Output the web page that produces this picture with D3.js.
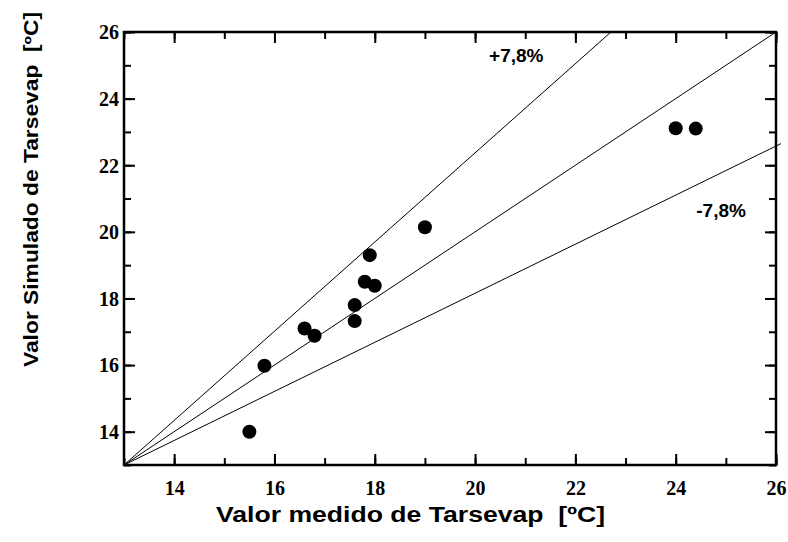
<!DOCTYPE html>
<html><head><meta charset="utf-8">
<script src="https://cdn.jsdelivr.net/npm/d3@7"></script>
<style>body{margin:0;background:#fff}svg{display:block}</style>
</head><body><svg id="c" width="788" height="542"></svg>
<script>
const measured = [15.5, 15.8, 16.6, 16.8, 17.6, 17.6, 17.8, 18.0, 17.9, 19.0, 24.0, 24.4];
const simulated = [14.0, 15.98, 17.1, 16.88, 17.8, 17.32, 18.5, 18.38, 19.3, 20.14, 23.11, 23.1];
const xTicks = [14, 16, 18, 20, 22, 24, 26];
const yTicks = [14, 16, 18, 20, 22, 24, 26];
const lineNames = ["+7,8%", "ideal", "-7,8%"];
const lineStartX = [13, 13, 13];
const lineStartY = [13, 13, 13];
const lineEndX = [22.71, 26, 26.1];
const lineEndY = [26, 26, 22.65];
const labelX = [20.28, 24.41];
const labelY = [25.1, 20.45];
const labelText = ["+7,8%", "-7,8%"];

const svg = d3.select("#c");
const L = 124, R = 776, T = 32, B = 465;
const x = d3.scaleLinear().domain([13, 26]).range([L, R]);
const y = d3.scaleLinear().domain([13, 26]).range([B, T]);

const g = svg.append("g");
lineNames.forEach((n, i) => {
  g.append("line")
    .attr("x1", x(lineStartX[i])).attr("y1", y(lineStartY[i]))
    .attr("x2", x(lineEndX[i])).attr("y2", y(lineEndY[i]))
    .attr("stroke", "#000").attr("stroke-width", 1);
});

const minor = d3.range(13, 26.01, 1);
function axis(gen, sc, tr, ticks, showLabels) {
  const a = svg.append("g").attr("transform", tr);
  a.call(gen(sc).tickValues(minor).tickSize(-7).tickFormat(""));
  a.select(".domain").remove();
  const b = svg.append("g").attr("transform", tr);
  b.call(gen(sc).tickValues(ticks).tickSize(-11).tickPadding(5).tickFormat(showLabels ? d3.format("d") : ""));
  b.select(".domain").remove();
  [a, b].forEach(s => s.selectAll("line").attr("stroke", "#000").attr("stroke-width", 2));
  b.selectAll("text").attr("font-family", "Liberation Serif").attr("font-weight", "bold").attr("font-size", 20).attr("fill", "#000");
  return b;
}
const bx = axis(d3.axisBottom, x, `translate(0,${B})`, xTicks, true);
bx.selectAll("text").attr("y", 30).attr("dy", 0);
axis(d3.axisTop, x, `translate(0,${T})`, xTicks, false);
const ly = axis(d3.axisLeft, y, `translate(${L},0)`, yTicks, true);
ly.selectAll("text").attr("dy", "0.34em");
axis(d3.axisRight, y, `translate(${R},0)`, yTicks, false);

svg.append("rect").attr("x", L).attr("y", T).attr("width", R - L).attr("height", B - T)
  .attr("fill", "none").attr("stroke", "#000").attr("stroke-width", 2.5);

svg.append("g").selectAll("circle").data(measured).join("circle")
  .attr("cx", (d) => x(d)).attr("cy", (d, i) => y(simulated[i])).attr("r", 7).attr("fill", "#000");

labelText.forEach((t, i) => {
  svg.append("text").attr("x", x(labelX[i])).attr("y", y(labelY[i]))
    .attr("font-family", "Liberation Sans").attr("font-weight", "bold").attr("font-size", 19)
    .attr("fill", "#000").text(t);
});

svg.append("text").attr("x", 410.5).attr("y", 522).attr("text-anchor", "middle")
  .attr("font-family", "Liberation Sans").attr("font-weight", "bold").attr("font-size", 21.5)
  .attr("textLength", 389).attr("lengthAdjust", "spacingAndGlyphs")
  .style("white-space", "pre")
  .text("Valor medido de Tarsevap  [ºC]");
svg.append("text").attr("transform", "translate(38,189.5) rotate(-90)").attr("text-anchor", "middle")
  .attr("font-family", "Liberation Sans").attr("font-weight", "bold").attr("font-size", 19.5)
  .attr("textLength", 355).attr("lengthAdjust", "spacingAndGlyphs")
  .style("white-space", "pre")
  .text("Valor Simulado de Tarsevap  [ºC]");
</script></body></html>
